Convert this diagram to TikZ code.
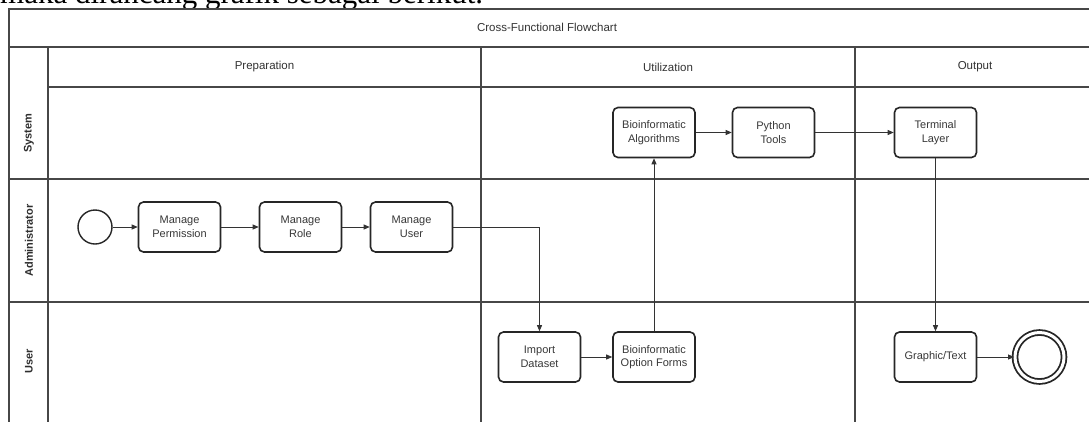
\documentclass[tikz,border=0pt]{standalone}
\usepackage{fontspec}
\setmainfont{Liberation Sans}
\newfontfamily\pageserif{Liberation Serif}
\usetikzlibrary{arrows.meta}

\tikzset{
  frameline/.style={draw=black!72, line width=1.2pt},
  stepbox/.style={draw=black!85, line width=1.6pt, rounded corners=5pt,
    minimum width=82pt, minimum height=50pt, inner sep=1pt, align=center,
    text=black!78, font=\fontsize{11}{13.5}\selectfont},
  flow/.style={draw=black!80, line width=0.8pt,
    -{Triangle[length=6pt,width=5pt]}},
  headtext/.style={text=black!80, font=\fontsize{11.5}{13}\selectfont},
  lanetext/.style={text=black!82, font=\fontsize{11}{13}\selectfont\bfseries, rotate=90},
  startev/.style={circle, draw=black!85, line width=1.4pt, minimum size=34pt, inner sep=0pt},
  endev/.style={circle, draw=black!85, line width=1.8pt, minimum size=49pt, inner sep=0pt,
    double=white, double distance=3pt}
}

\begin{document}
\begin{tikzpicture}[x=1pt, y=-1pt]
\useasboundingbox (0,0) rectangle (1089,421);
\clip (0,0) rectangle (1089,421);
\fill[white] (0,0) rectangle (1089,421);

% running text of the page above the chart
\node[anchor=base west, inner sep=0pt, font=\pageserif\fontsize{31}{31}\selectfont]
  (pagetext) at (0,3) {maka dirancang grafik sebagai berikut.};

% pool frame
\draw[frameline] (1100,9) -- (9,9) -- (9,430);
\draw[frameline] (9,47) -- (1100,47);
\draw[frameline] (48,87) -- (1100,87);
\draw[frameline] (9,179) -- (1100,179);
\draw[frameline] (9,302) -- (1100,302);
\draw[frameline] (48,47) -- (48,430);
\draw[frameline] (481,47) -- (481,430);
\draw[frameline] (855,47) -- (855,430);

% titles
\node[headtext] (title) at (547,27) {Cross-Functional Flowchart};
\node[headtext] (hprep) at (264.5,67) {Preparation};
\node[headtext] (hutil) at (668,67) {Utilization};
\node[headtext] (hout) at (975,67) {Output};

\node[lanetext] (lsys) at (29,133) {System};
\node[lanetext] (ladm) at (29,240.5) {Administrator};
\node[lanetext] (lusr) at (29,361.5) {User};

% events and tasks
\node[startev] (start) at (95,227) {};
\node[stepbox] (perm) at (179.5,227) {Manage\\Permission};
\node[stepbox] (role) at (300.5,227) {Manage\\Role};
\node[stepbox] (muser) at (411.5,227) {Manage\\User};

\node[stepbox] (import) at (539.5,357) {Import\\Dataset};
\node[stepbox] (forms) at (654,357) {Bioinformatic\\Option Forms};
\node[stepbox] (algo) at (654,132.5) {Bioinformatic\\Algorithms};
\node[stepbox] (python) at (773.5,132.5) {Python\\Tools};
\node[stepbox] (term) at (935.5,132.5) {Terminal\\Layer};
\node[stepbox] (graph) at (935.5,357) {Graphic/Text};
\node[endev] (stop) at (1039.5,357) {};

% flow
\draw[flow] (start) -- (perm);
\draw[flow] (perm) -- (role);
\draw[flow] (role) -- (muser);
\draw[flow] (muser.east) -| (import.north);
\draw[flow] (import) -- (forms);
\draw[flow] (forms) -- (algo);
\draw[flow] (algo) -- (python);
\draw[flow] (python) -- (term);
\draw[flow] (term) -- (graph);
\draw[flow] (graph) -- (stop);
\end{tikzpicture}
\end{document}
